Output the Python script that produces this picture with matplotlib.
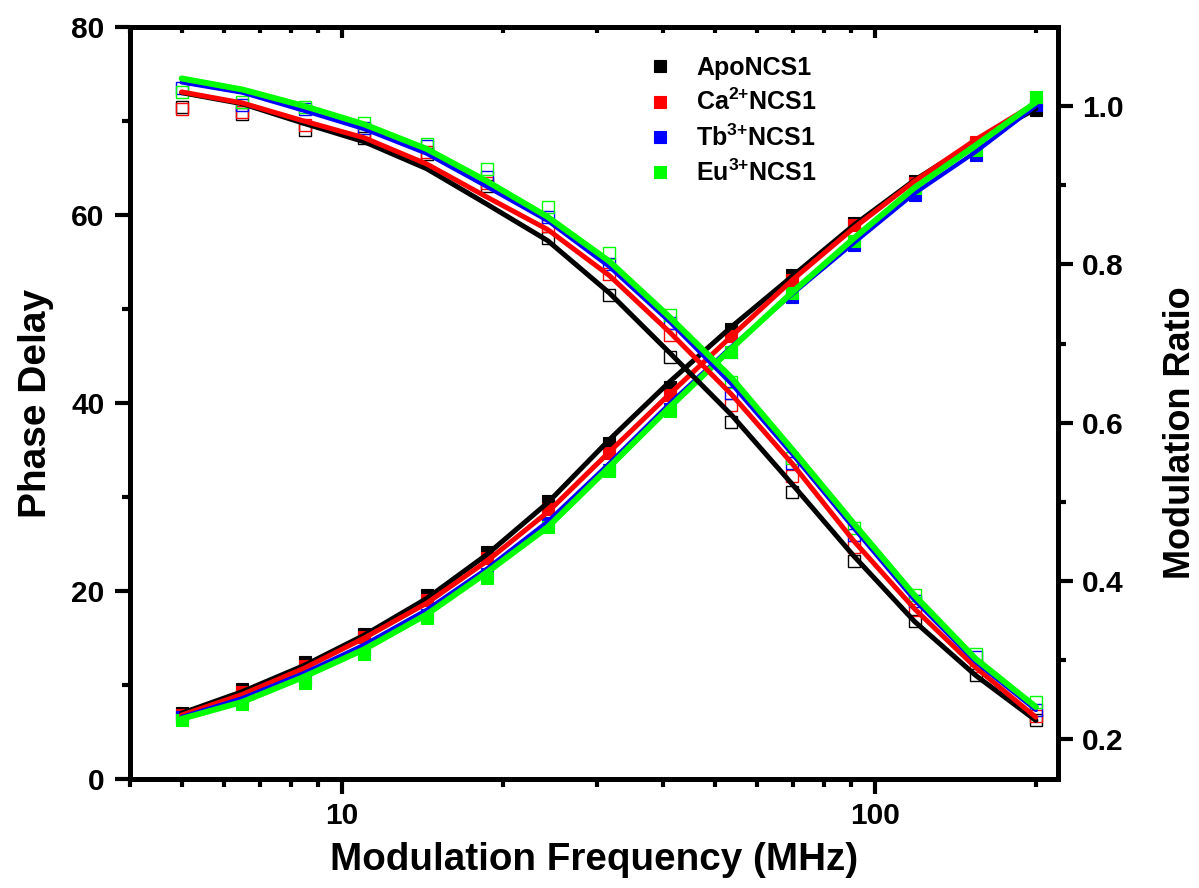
import matplotlib
matplotlib.use("Agg")
import matplotlib.pyplot as plt
from matplotlib.ticker import (FixedLocator, NullFormatter, FuncFormatter,
                               MultipleLocator, LogLocator)

plt.rcParams['font.family'] = ['Liberation Sans', 'DejaVu Sans']
plt.rcParams['font.weight'] = 'bold'
plt.rcParams['mathtext.fontset'] = 'custom'
plt.rcParams['mathtext.rm'] = 'Liberation Sans:bold'
plt.rcParams['mathtext.bf'] = 'Liberation Sans:bold'
plt.rcParams['mathtext.it'] = 'Liberation Sans:bold'
plt.rcParams['mathtext.default'] = 'bf'

# ---------------- data ----------------
freq = [5.0, 6.5, 8.5, 11.0, 14.4, 18.7, 24.3, 31.7, 41.2, 53.7, 69.9, 91.0, 118.4, 154.1, 200.0]

labels = ['ApoNCS1', r'Ca$^{2{+}}$NCS1', r'Tb$^{3{+}}$NCS1', r'Eu$^{3{+}}$NCS1']
colors = ['#000000', '#FF0000', '#0000FF', '#00FF00']

# phase delay (filled squares)
phase_apo = [7.0, 9.6, 12.4, 15.4, 19.6, 24.2, 29.6, 35.7, 41.7, 47.9, 53.6, 59.2, 63.6, 67.7, 71.2]
phase_ca  = [6.8, 9.3, 12.0, 15.1, 19.0, 23.5, 28.7, 34.7, 40.9, 47.1, 53.1, 58.9, 63.4, 67.8, 72.1]
phase_tb  = [6.6, 8.3, 10.6, 13.6, 17.4, 21.8, 27.2, 32.9, 39.4, 45.4, 51.3, 56.8, 62.1, 66.4, 71.7]
phase_eu  = [6.3, 8.0, 10.2, 13.3, 17.1, 21.4, 26.8, 32.8, 39.2, 45.4, 51.7, 57.2, 62.9, 66.9, 72.5]

# phase fit curves
pfit_apo = [7.0, 9.3, 12.1, 15.3, 19.2, 23.9, 29.4, 36.1, 42.3, 48.1, 53.5, 58.9, 63.7, 67.8, 71.3]
pfit_ca  = [6.8, 9.0, 11.8, 15.0, 18.7, 23.2, 28.4, 34.8, 41.0, 47.1, 53.1, 58.6, 63.6, 68.0, 71.9]
pfit_tb  = [6.6, 8.6, 11.3, 14.3, 18.0, 22.4, 27.4, 33.6, 40.0, 46.0, 51.6, 57.0, 62.3, 66.7, 71.6]
pfit_eu  = [6.4, 8.2, 10.9, 13.8, 17.5, 22.0, 26.8, 33.2, 39.6, 45.8, 51.8, 57.5, 62.9, 67.4, 72.0]

# modulation ratio (open squares)
mod_apo = [0.999, 0.990, 0.970, 0.960, 0.939, 0.899, 0.834, 0.762, 0.683, 0.601, 0.512, 0.426, 0.350, 0.281, 0.224]
mod_ca  = [0.997, 0.992, 0.976, 0.968, 0.942, 0.903, 0.849, 0.788, 0.711, 0.623, 0.533, 0.443, 0.363, 0.293, 0.230]
mod_tb  = [1.023, 1.002, 0.996, 0.973, 0.950, 0.910, 0.860, 0.801, 0.726, 0.638, 0.549, 0.458, 0.375, 0.304, 0.237]
mod_eu  = [1.018, 1.005, 0.999, 0.979, 0.952, 0.920, 0.872, 0.814, 0.736, 0.651, 0.556, 0.467, 0.382, 0.308, 0.247]

# modulation fit curves
mfit_apo = [1.017, 1.003, 0.978, 0.955, 0.921, 0.876, 0.830, 0.764, 0.688, 0.610, 0.522, 0.432, 0.349, 0.281, 0.224]
mfit_ca  = [1.018, 1.004, 0.981, 0.960, 0.927, 0.885, 0.844, 0.786, 0.714, 0.636, 0.548, 0.451, 0.365, 0.291, 0.228]
mfit_tb  = [1.030, 1.017, 0.994, 0.971, 0.940, 0.898, 0.855, 0.797, 0.727, 0.649, 0.560, 0.467, 0.376, 0.298, 0.237]
mfit_eu  = [1.035, 1.021, 1.000, 0.977, 0.946, 0.905, 0.860, 0.804, 0.733, 0.657, 0.566, 0.473, 0.382, 0.302, 0.241]

phase_data = [phase_apo, phase_ca, phase_tb, phase_eu]
phase_fit = [pfit_apo, pfit_ca, pfit_tb, pfit_eu]
mod_data = [mod_apo, mod_ca, mod_tb, mod_eu]
mod_fit = [mfit_apo, mfit_ca, mfit_tb, mfit_eu]
line_w = [3.6, 3.6, 3.0, 4.3]

# ---------------- figure ----------------
fig = plt.figure(figsize=(11.99, 8.88), dpi=100)
ax = fig.add_axes([130/1199, 109/888, 928/1199, 752/888])
ax2 = ax.twinx()

handles = []
for pd_, pf, c, lw in zip(phase_data, phase_fit, colors, line_w):
    h, = ax.plot(freq, pd_, linestyle='none', marker='s', ms=9, mfc=c, mec=c,
                 mew=0.8, zorder=2)
    handles.append(h)
    ax.plot(freq, pf, color=c, lw=lw, zorder=3, solid_capstyle='round')

for md, mf, c, lw in zip(mod_data, mod_fit, colors, line_w):
    ax2.plot(freq, md, linestyle='none', marker='s', ms=9, mfc='none', mec=c,
             mew=1.0, zorder=2)
    ax2.plot(freq, mf, color=c, lw=lw, zorder=3, solid_capstyle='round')

ax.set_xscale('log')
ax.set_xlim(4, 220)
ax.set_ylim(0, 80)
ax2.set_ylim(0.15, 1.1)

ax.xaxis.set_major_locator(FixedLocator([10, 100]))
ax.xaxis.set_major_formatter(FuncFormatter(lambda v, p: f"{v:g}"))
ax.xaxis.set_minor_locator(LogLocator(base=10, subs=range(2, 10), numticks=20))
ax.xaxis.set_minor_formatter(NullFormatter())

ax.yaxis.set_major_locator(MultipleLocator(20))
ax.yaxis.set_minor_locator(FixedLocator([10, 30, 50, 70]))
ax2.yaxis.set_major_locator(FixedLocator([0.2, 0.4, 0.6, 0.8, 1.0]))
ax2.yaxis.set_major_formatter(FuncFormatter(lambda v, p: f"{v:.1f}"))
ax2.yaxis.set_minor_locator(FixedLocator([0.3, 0.5, 0.7, 0.9]))

tw = 3.0
ax.tick_params(axis='x', which='major', direction='out', length=10.5, width=tw,
               labelsize=21.5, pad=6, top=False)
ax.tick_params(axis='x', which='minor', direction='out', length=5.5, width=tw, top=False)
ax.tick_params(axis='y', which='major', direction='out', length=10.5, width=tw,
               labelsize=21.5, pad=8, right=False)
ax.tick_params(axis='y', which='minor', direction='out', length=5.5, width=tw, right=False)
ax2.tick_params(axis='y', which='major', direction='out', length=10.5, width=tw,
                labelsize=21.5, pad=7)
ax2.tick_params(axis='y', which='minor', direction='out', length=5.5, width=tw)

# top axis with inward ticks
secx = ax.secondary_xaxis('top', functions=(lambda x: x, lambda x: x))
secx.xaxis.set_major_locator(FixedLocator([10, 100]))
secx.xaxis.set_minor_locator(LogLocator(base=10, subs=range(2, 10), numticks=20))
secx.xaxis.set_major_formatter(NullFormatter())
secx.xaxis.set_minor_formatter(NullFormatter())
secx.tick_params(which='major', direction='in', length=8, width=tw)
secx.tick_params(which='minor', direction='in', length=4, width=tw)

for a in (ax, ax2):
    for s in a.spines.values():
        s.set_linewidth(3.6)
for s in secx.spines.values():
    s.set_linewidth(3.6)

for t in ax.get_xticklabels() + ax.get_yticklabels() + ax2.get_yticklabels():
    t.set_fontweight('bold')

ax.set_xlabel('Modulation Frequency (MHz)', fontsize=27.8, fontweight='bold', labelpad=9)
ax.set_ylabel('Phase Delay', fontsize=28, fontweight='bold', labelpad=12)
ax2.set_ylabel('Modulation Ratio', fontsize=26, fontweight='bold', rotation=90)
ax2.yaxis.set_label_coords(1.113, 0.46)

leg = ax2.legend(handles, labels, loc='upper left',
                 bbox_to_anchor=(647/1199, 1 - 56/888), bbox_transform=fig.transFigure,
                 frameon=False, fontsize=18, handlelength=1.0, handletextpad=0.98,
                 labelspacing=0.36, borderpad=0, borderaxespad=0)
for t in leg.get_texts():
    t.set_fontweight('bold')

fig.savefig('out.png', dpi=100)
